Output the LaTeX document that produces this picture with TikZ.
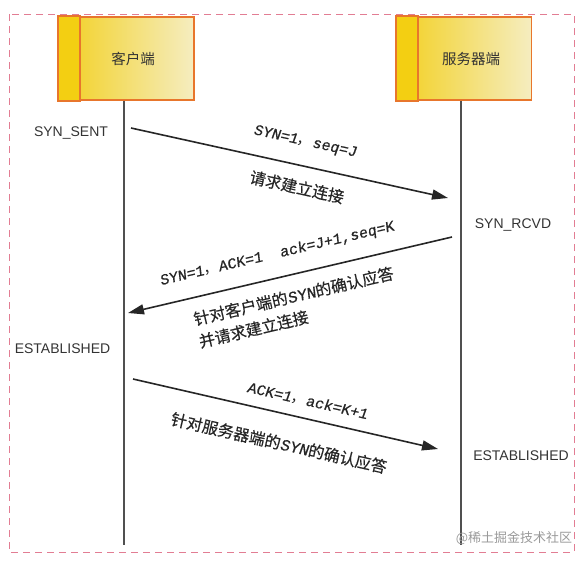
\documentclass[tikz,border=0pt]{standalone}
\usepackage{fontspec}
\setmainfont{Liberation Sans}
\newfontfamily\cjk{Noto Sans CJK SC}
\newfontfamily\cjkb[FakeBold=0.4]{Noto Sans CJK SC}
\newfontfamily\mono[FakeSlant=0.12,FakeBold=0.6]{Liberation Mono}
\usetikzlibrary{arrows.meta}
\definecolor{boxor}{HTML}{E8762C}
\definecolor{stripY}{HTML}{F3CF12}
\definecolor{gradL}{HTML}{F2D020}
\definecolor{gradR}{HTML}{F5EDC0}
\definecolor{lifec}{HTML}{505050}
\definecolor{dashc}{HTML}{E27D93}
\definecolor{wmark}{HTML}{9A9A9A}
\tikzset{
  actorbox/.style={draw=boxor, line width=1.6pt, left color=gradL, right color=gradR, minimum width=135pt, minimum height=83pt, inner sep=0pt},
  strip/.style={draw=boxor, line width=1.6pt, fill=stripY},
  actortext/.style={font=\cjk\fontsize{14.5}{16}\selectfont, text=black!80},
  lifeline/.style={draw=lifec, line width=2pt},
  msg/.style={draw=black!85, line width=1.6pt, -{Triangle[length=16pt,width=10pt]}},
  state/.style={font=\fontsize{14}{16}\selectfont, text=black!80, inner sep=0pt},
  mlbl/.style={font=\mono\fontsize{15}{18}\selectfont, text=black!85, inner sep=0pt},
  clbl/.style={font=\cjkb\fontsize{16}{23}\selectfont, text=black!85, inner sep=0pt},
}
\begin{document}
\begin{tikzpicture}[x=1pt,y=-1pt]
\useasboundingbox (0,0) rectangle (585,560);
\draw[dashc, line width=1pt, dash pattern=on 7pt off 5pt] (9,14) rectangle (574,552);
% actor boxes
\node[actorbox] (cbox) at (126.5,58.5) {};
\node[actorbox] (sbox) at (464,58.5) {};
\draw[strip] (cbox.north west) rectangle ([xshift=22pt]cbox.south west);
\draw[strip] (sbox.north west) rectangle ([xshift=22pt]sbox.south west);
\node[actortext] (ctext) at (133,58.5) {客户端};
\node[actortext] (stext) at (471,58.5) {服务器端};
% lifelines
\coordinate (cend) at (124,545);
\coordinate (send) at (461,545);
\draw[lifeline] (cbox.south -| cend) -- (cend);
\draw[lifeline] (sbox.south -| send) -- (send);
% states
\node[state] (s1) at (71,133) {SYN\_SENT};
\node[state] (s2) at (513,225) {SYN\_RCVD};
\node[state] (s3) at (62.5,349) {ESTABLISHED};
\node[state] (s4) at (521,456) {ESTABLISHED};
% messages
\coordinate (a1s) at (131,128);
\coordinate (a1e) at (448,198);
\coordinate (a2s) at (452,237);
\coordinate (a2e) at (128,313);
\coordinate (a3s) at (133,379);
\coordinate (a3e) at (438,449);
\draw[msg] (a1s) -- (a1e);
\draw[msg] (a2s) -- (a2e);
\draw[msg] (a3s) -- (a3e);
\node[mlbl, rotate=-12.5] (l1a) at (305,142) {SYN=1{\cjk ，}seq=J};
\node[clbl, rotate=-12.5] (l1b) at (297,187) {请求建立连接};
\node[mlbl, rotate=13.2] (l2a) at (277,254) {SYN=1{\cjk ，}ACK=1\ \ ack=J+1,seq=K};
\node[clbl, rotate=13.2, align=left, anchor=north west] (l2b) at (192,312) {针对客户端的{\mono SYN}的确认应答\\并请求建立连接};
\node[mlbl, rotate=-12.8] (l3a) at (307.5,401) {ACK=1{\cjk ，}ack=K+1};
\node[clbl, rotate=-12.8] (l3b) at (279,443) {针对服务器端的{\mono SYN}的确认应答};
% watermark
\node[font=\cjk\fontsize{13}{15}\selectfont, text=wmark, inner sep=0pt] (wm) at (514,538) {@稀土掘金技术社区};
\end{tikzpicture}
\end{document}
